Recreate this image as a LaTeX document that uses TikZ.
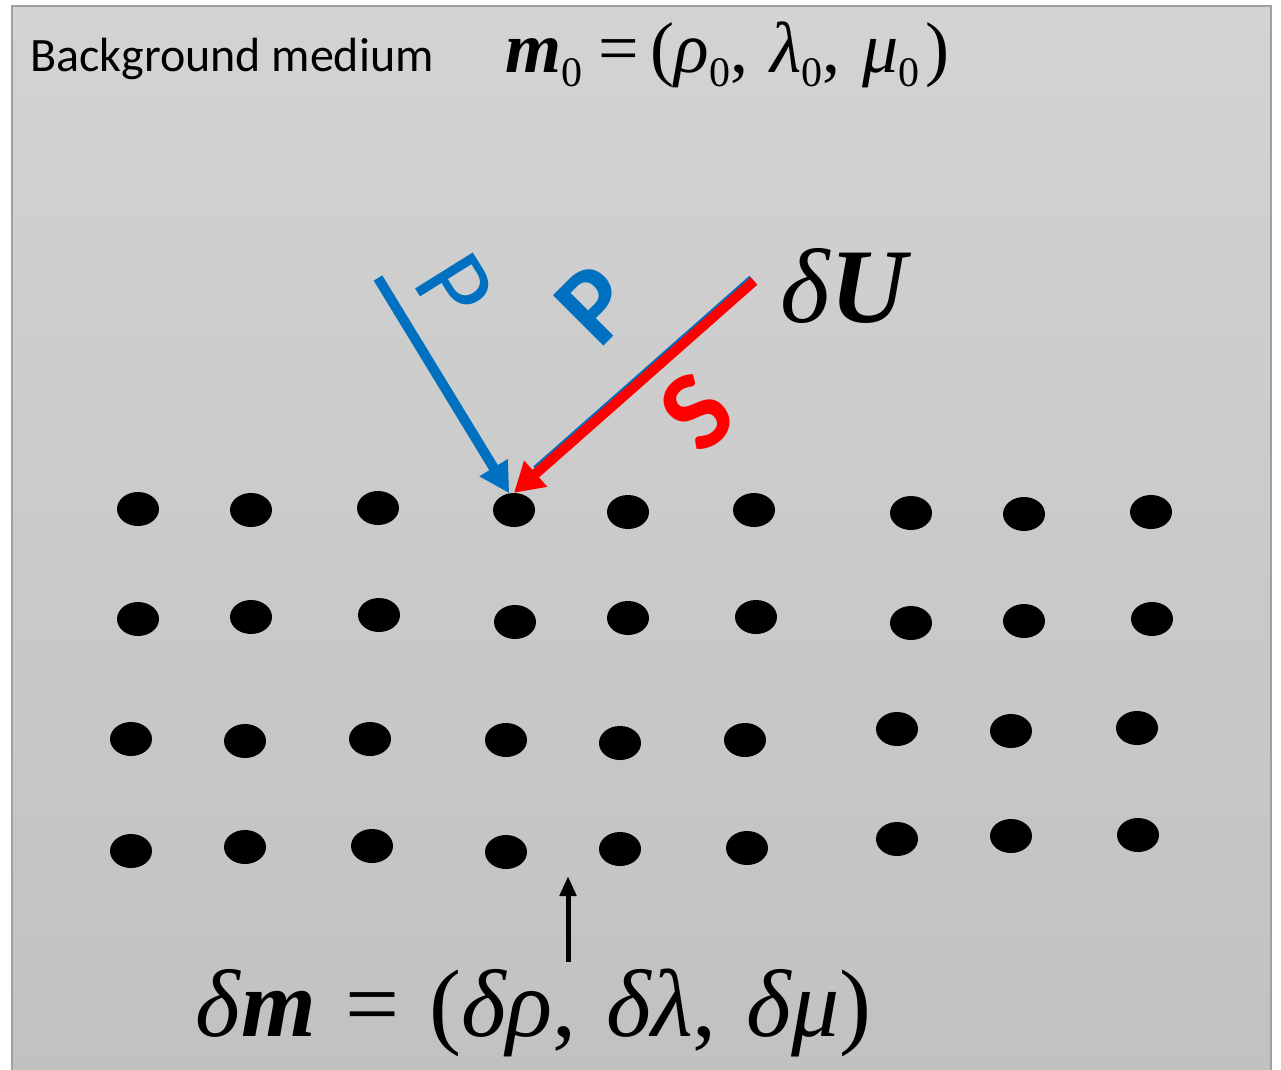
\documentclass[tikz,border=0pt]{standalone}
\usepackage{fontspec}
\setmainfont{Carlito}
\newfontfamily\tnr{Liberation Serif}
\usetikzlibrary{arrows.meta,shapes.geometric,calc}
\definecolor{wblue}{HTML}{0070C0}
\definecolor{wred}{HTML}{FF0000}
\definecolor{bgtop}{RGB}{211,211,211}
\definecolor{bgbot}{RGB}{193,193,193}
\definecolor{bgline}{RGB}{160,160,160}
\newcommand{\lowz}[1]{\raisebox{-14pt}{\fontsize{42}{42}\selectfont #1}}
\begin{document}
\begin{tikzpicture}[x=1pt,y=-1pt,
  dot/.style={ellipse,fill=black,minimum width=42pt,minimum height=34pt,inner sep=0pt},
  wave/.style={line width=10pt},
  bluearr/.style={wave,draw=wblue,-{Triangle[length=30pt,width=31pt,fill=wblue]}},
  redarr/.style={wave,draw=wred,-{Triangle[length=29pt,width=33pt,fill=wred]}},
  lab/.style={inner sep=0pt},
  ptxt/.style={lab,font=\fontsize{106}{100}\selectfont,text=wblue},
]
\useasboundingbox (0,0) rectangle (1281,1069);
\begin{scope}
  \clip (0,0) rectangle (1281,1069);
  \shade[top color=bgtop,bottom color=bgbot] (12,6) rectangle (1271,1085);
  \draw[bgline,line width=2pt] (12,1085) -- (12,6) -- (1271,6) -- (1271,1085);
\end{scope}

% texts
\node[lab,anchor=base west,font=\fontsize{48}{50}\selectfont] (bg) at (30,71) {Background medium};
\node[lab,anchor=base west,font=\tnr\fontsize{72}{76}\selectfont] (m0) at (505,72)
  {\textbf{\textit{m}}\lowz{0}\hspace{16pt}=\hspace{12pt}(\textit{ρ}\lowz{0},\hspace{22pt}\textit{λ}\lowz{0},\hspace{22pt}\textit{μ}\lowz{0}\hspace{6pt})};
\node[lab,anchor=base west,font=\tnr\fontsize{106}{110}\selectfont] (dU) at (780,322)
  {\textit{δ}\textbf{\textit{U}}};
\node[lab,anchor=base west,font=\tnr\fontsize{96}{100}\selectfont] (dm) at (195,1036)
  {\textit{δ}\textbf{\textit{m}}\hspace{30pt}=\hspace{30pt}(\textit{δρ},\hspace{30pt}\textit{δλ},\hspace{30pt}\textit{δμ})};

% dots
\foreach \r/\list in {
  1/{138/509,251/510,378/508,514/510,628/512,754/510,911/513,1024/514,1151/512},
  2/{138/619,251/617,379/615,515/622,628/618,756/617,911/623,1024/621,1152/619},
  3/{131/739,245/741,370/739,506/740,620/743,745/740,897/729,1011/731,1137/728},
  4/{131/851,245/847,372/846,506/852,620/849,747/848,897/839,1011/836,1138/835}}{
  \foreach \px/\py [count=\c] in \list {
    \node[dot] (d\r\c) at (\px,\py) {};
  }
}

% waves
\coordinate (pstart) at (378,278);
\coordinate (sstart) at (754,281);
\draw[bluearr] (pstart) -- (d14.106);
\draw[wave,draw=wblue] ([shift={(-1.3,-1.5)}]sstart) -- ([shift={(-1.3,-1.5)}]$(d14.north)!32pt!(sstart)$);
\draw[redarr] (sstart) -- (d14.north);

\node[ptxt,rotate=-58] (p1) at (455,288) {P};
\node[ptxt,rotate=45,font=\fontsize{110}{100}\selectfont\bfseries] (p2) at (595,305) {P};
\node[ptxt,rotate=42,text=wred,font=\fontsize{114}{100}\selectfont\bfseries] (s1) at (697,412) {S};

% perturbation pointer
\coordinate (ptip) at (568,876);
\draw[line width=5pt,-{Triangle[length=20pt,width=16pt]}] (dm.north -| ptip) ++(0,-6) -- (ptip);
\end{tikzpicture}
\end{document}
